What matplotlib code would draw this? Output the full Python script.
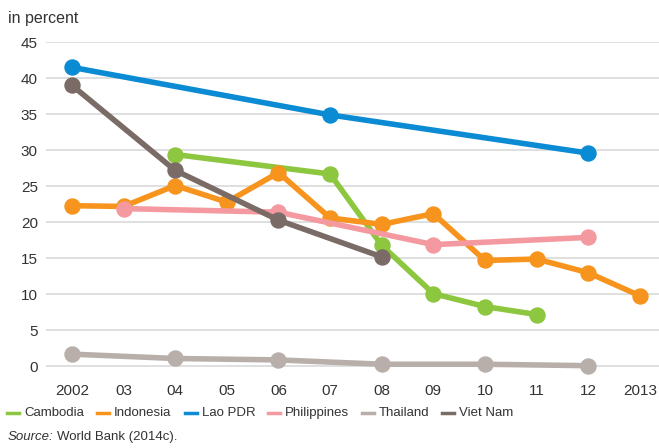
import matplotlib
matplotlib.use("Agg")
import matplotlib.pyplot as plt
from matplotlib.lines import Line2D

plt.rcParams['font.family'] = ['Liberation Sans Narrow', 'Liberation Sans', 'DejaVu Sans']

# data (percent)
years = list(range(2002, 2014))
tick_labels = ["2002", "03", "04", "05", "06", "07", "08", "09", "10", "11", "12", "2013"]

cambodia_x = [2004, 2007, 2008, 2009, 2010, 2011]
cambodia_y = [29.4, 26.7, 16.8, 10.1, 8.3, 7.2]

indonesia_x = list(range(2002, 2014))
indonesia_y = [22.3, 22.2, 25.1, 22.8, 26.9, 20.6, 19.7, 21.2, 14.7, 14.9, 13.0, 9.8]

lao_x = [2002, 2007, 2012]
lao_y = [41.5, 34.9, 29.6]

philippines_x = [2003, 2006, 2009, 2012]
philippines_y = [21.9, 21.4, 16.9, 17.9]

thailand_x = [2002, 2004, 2006, 2008, 2010, 2012]
thailand_y = [1.7, 1.1, 0.9, 0.3, 0.3, 0.1]

vietnam_x = [2002, 2004, 2006, 2008]
vietnam_y = [39.0, 27.2, 20.3, 15.2]

series = [
    ("Cambodia", cambodia_x, cambodia_y, "#8DC63F", 3),
    ("Indonesia", indonesia_x, indonesia_y, "#F7941D", 4),
    ("Lao PDR", lao_x, lao_y, "#0A8BD3", 8),
    ("Philippines", philippines_x, philippines_y, "#F4999F", 5),
    ("Thailand", thailand_x, thailand_y, "#B8AFAA", 6),
    ("Viet Nam", vietnam_x, vietnam_y, "#7B6B67", 7),
]

W, H = 659, 448
fig = plt.figure(figsize=(W / 100, H / 100), dpi=100)
ax = fig.add_axes([0.07, 0.158, 0.93, 0.748])

for name, xs, ys, color, z in series:
    ax.plot(xs, ys, color=color, lw=4.0, marker="o", ms=10.8,
            zorder=z, clip_on=False, solid_capstyle="round")

ax.set_xlim(2001.5, 2013.37)
ax.set_ylim(-1.5, 45)
ax.set_yticks(range(0, 46, 5))
ax.set_xticks(years)
ax.set_xticklabels(tick_labels)
ax.grid(axis="y", color="#D6D6D6", lw=1.1, zorder=0)
for s in ax.spines.values():
    s.set_visible(False)
ax.tick_params(length=0, labelsize=11, colors="#333333")
ax.tick_params(axis="y", pad=6)
ax.tick_params(axis="x", pad=5)

fig.text(8 / W, 1 - 18 / H, "in percent", fontsize=11.5, color="#333333", va="center")

# legend: short coloured dash followed by the name
legend_x = [7, 97, 185, 268, 362, 442]
ly = 1 - 413 / H
for (name, _, _, color, _), lx in zip(series, legend_x):
    fig.add_artist(Line2D([lx / W, (lx + 12) / W], [ly, ly], color=color, lw=2.5,
                          transform=fig.transFigure))
    fig.text((lx + 17) / W, ly, name, fontsize=9.5, color="#333333", va="center")

src = fig.text(8 / W, 1 - 437 / H, "Source:", fontsize=9.5, style="italic",
               color="#333333", va="center")
fig.canvas.draw()
bb = src.get_window_extent()
fig.text((bb.x1 + 3) / W, 1 - 437 / H, "World Bank (2014c).", fontsize=9.5,
         color="#333333", va="center")

fig.savefig("out.png", dpi=100)
